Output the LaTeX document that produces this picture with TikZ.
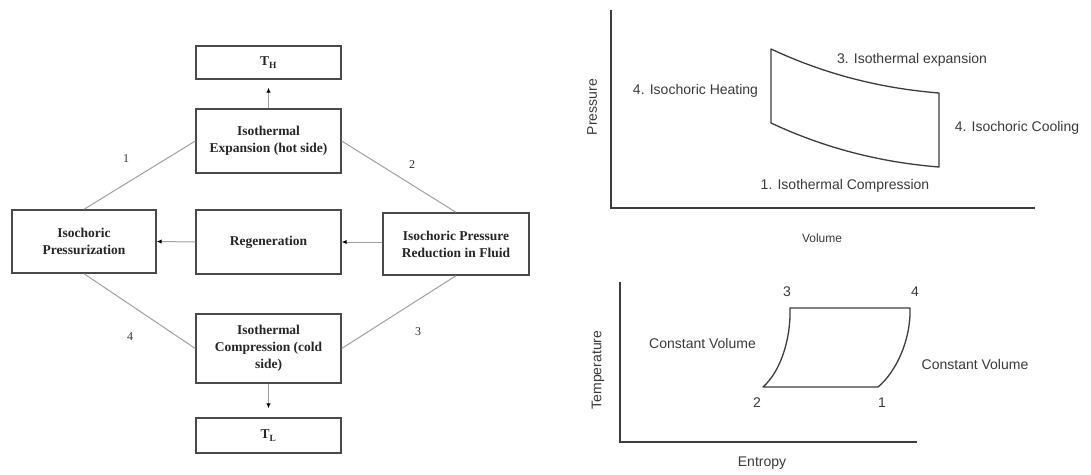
\documentclass[tikz,border=0pt]{standalone}
\usepackage{fontspec}
\setmainfont{Liberation Serif}
\setsansfont{Liberation Sans}
\usetikzlibrary{arrows.meta}
\definecolor{boxgray}{HTML}{4A4A4A}
\definecolor{linkgray}{HTML}{A0A0A0}
\definecolor{axisgray}{HTML}{3C3C3C}
\definecolor{txtgray}{HTML}{3A3A3A}
\tikzset{
  procbox/.style={draw=boxgray, line width=1.4pt, minimum width=145pt, inner sep=0pt,
    align=center, font=\fontsize{13.5}{17}\selectfont\bfseries, text=black!85},
  link/.style={draw=linkgray, line width=1pt},
  flow/.style={draw=linkgray, line width=1pt, -{Latex[length=5pt,width=4.5pt,color=black]}},
  steplabel/.style={font=\fontsize{12}{14}\selectfont, text=black!80},
  plotlabel/.style={font=\sffamily\fontsize{14}{16}\selectfont, text=txtgray},
  axis/.style={draw=axisgray, line width=1.3pt},
  cycle/.style={draw=axisgray, line width=1.3pt}
}
\begin{document}
\begin{tikzpicture}[x=1pt,y=-1pt]
\path[use as bounding box, fill=white] (0,0) rectangle (1091,474);

% ---------- left flow diagram ----------
\node[procbox, minimum height=33pt] (th) at (268.5,62.5) {T\textsubscript{H}};
\node[procbox, minimum height=64pt] (exp) at (268.5,141) {Isothermal\\Expansion (hot side)};
\node[procbox, minimum width=144pt, minimum height=63pt] (pres) at (84,241.5) {Isochoric\\Pressurization};
\node[procbox, minimum height=64pt] (regen) at (268.5,242) {Regeneration};
\node[procbox, minimum width=146pt, minimum height=62pt] (red) at (456,244) {Isochoric Pressure\\Reduction in Fluid};
\node[procbox, minimum height=69pt] (comp) at (268.5,348.5) {Isothermal\\Compression (cold\\side)};
\node[procbox, minimum height=35pt] (tl) at (268.5,435.5) {T\textsubscript{L}};

\draw[flow, shorten >=8pt] (exp.north) -- (th.south);
\draw[flow, shorten >=9pt] (comp.south) -- (tl.north);
\draw[flow] (regen.west) -- (pres.east);
\draw[flow] (red.west |- regen.west) -- (regen.east);

\draw[link] (exp.west) -- (pres.north);
\draw[link] (exp.east) -- (red.north);
\draw[link] (pres.south) -- (comp.west);
\draw[link] (red.south) -- (comp.east);

\node[steplabel] (n1) at (126,159) {1};
\node[steplabel] (n2) at (412,165) {2};
\node[steplabel] (n3) at (418,332) {3};
\node[steplabel] (n4) at (130,337) {4};

% ---------- P-V diagram ----------
\coordinate (pvo) at (611,208);
\coordinate (pvy) at (611,10);
\coordinate (pvx) at (1035,208);
\draw[axis] (pvy) -- (pvo) -- (pvx);
\coordinate (pa) at (771,49);
\coordinate (pb) at (771,123);
\coordinate (pc) at (939,167);
\coordinate (pd) at (939,93);
\draw[cycle, line join=round] (pa) .. controls (823.7,73.7) and (879.7,88.3) .. (pd) -- (pc)
   .. controls (879.7,162.3) and (823.7,147.7) .. (pb) -- cycle;
\node[plotlabel] (l3) at (912,60) {3. Isothermal expansion};
\node[plotlabel] (l4h) at (695.5,91) {4. Isochoric Heating};
\node[plotlabel] (l4c) at (1017,128) {4. Isochoric Cooling};
\node[plotlabel] (l1) at (845,186) {1. Isothermal Compression};
\node[plotlabel, font=\sffamily\fontsize{12}{14}\selectfont] (vol) at (822,238) {Volume};
\node[plotlabel, rotate=90] (pr) at (592,107) {Pressure};

% ---------- T-s diagram ----------
\coordinate (tso) at (620,442);
\coordinate (tsy) at (620,282);
\coordinate (tsx) at (917,442);
\draw[axis] (tsy) -- (tso) -- (tsx);
\coordinate (s3) at (790,308);
\coordinate (s4) at (910,308);
\coordinate (s1) at (878,387);
\coordinate (s2) at (763,387);
\draw[cycle, line join=round] (s2) .. controls (780,372) and (791,340) .. (s3) -- (s4)
   .. controls (911,340) and (896,372) .. (s1) -- cycle;
\node[plotlabel] (t3) at (787,292) {3};
\node[plotlabel] (t4) at (915,292) {4};
\node[plotlabel] (t2) at (757,403) {2};
\node[plotlabel] (t1) at (882,403) {1};
\node[plotlabel] (cvl) at (702.5,343) {Constant Volume};
\node[plotlabel] (cvr) at (975,364) {Constant Volume};
\node[plotlabel] (ent) at (762,463) {Entropy};
\node[plotlabel, rotate=90] (tmp) at (598,370) {Temperature};
\end{tikzpicture}
\end{document}
